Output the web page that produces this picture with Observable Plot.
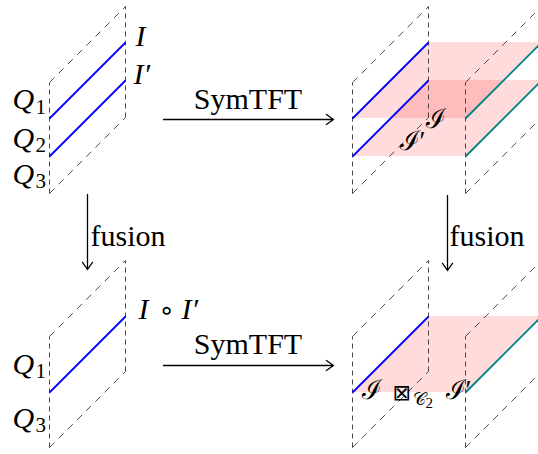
<!DOCTYPE html>
<html><head><meta charset="utf-8">
<script src="https://cdn.jsdelivr.net/npm/d3@7"></script>
<script src="https://cdn.jsdelivr.net/npm/@observablehq/plot@0.6"></script>
<style>html,body{margin:0;padding:0;background:#fff}svg{display:block}</style>
</head><body><div id="chart"></div>
<script>
// ---- diagram data ----
// bottom-left corner of each dashed slab (diagram coordinates, y downward)
const slabs = [
  {id: "TL", x: 49,  y: 193},
  {id: "TR1", x: 352, y: 193},
  {id: "TR2", x: 465, y: 193},
  {id: "BL", x: 49,  y: 447},
  {id: "BR1", x: 352, y: 447},
  {id: "BR2", x: 465, y: 447}
];
const slabHeight = 111, slabDepth = 76;

// defect lines: slab index, height above slab bottom, colour
const defectLines = [
  {slab: 0, h: 75, c: "#0000ff"}, {slab: 0, h: 37, c: "#0000ff"},
  {slab: 1, h: 75, c: "#0000ff"}, {slab: 1, h: 37, c: "#0000ff"},
  {slab: 2, h: 75, c: "#008080"}, {slab: 2, h: 37, c: "#008080"},
  {slab: 3, h: 55, c: "#0000ff"},
  {slab: 4, h: 55, c: "#0000ff"},
  {slab: 5, h: 55, c: "#008080"}
];
// pink sheets between two slabs at a given height
const sheets = [
  {from: 1, to: 2, h: 75}, {from: 1, to: 2, h: 37},
  {from: 4, to: 5, h: 55}
];
// arrows
const arrows = [
  {x1: 163, y1: 119, x2: 333, y2: 119},
  {x1: 163, y1: 365, x2: 333, y2: 365},
  {x1: 87,  y1: 194, x2: 87,  y2: 269},
  {x1: 447, y1: 195, x2: 447, y2: 270}
];
// labels: x, baseline, text, size, style, anchor, font
const serif = "Liberation Serif, DejaVu Serif, serif";
const symb = "DejaVu Sans, sans-serif";
const labels = [
  {x: 247.5, b: 108, t: "SymTFT", s: 30, st: "normal", a: "middle", f: serif},
  {x: 247.5, b: 353, t: "SymTFT", s: 30, st: "normal", a: "middle", f: serif},
  {x: 90,  b: 245, t: "fusion", s: 30, st: "normal", a: "start", f: serif},
  {x: 449, b: 245, t: "fusion", s: 30, st: "normal", a: "start", f: serif},
  {x: 135, b: 45,  t: "I", s: 30, st: "italic", a: "start", f: serif},
  {x: 133, b: 83,  t: "I′", s: 30, st: "italic", a: "start", f: serif},
  {x: 138, b: 318, t: "I", s: 30, st: "italic", a: "start", f: serif},
  {x: 158, b: 318, t: "∘", s: 26, st: "normal", a: "start", f: symb},
  {x: 181, b: 318, t: "I′", s: 30, st: "italic", a: "start", f: serif},
  {x: 12, b: 108, t: "Q", s: 30, st: "italic", a: "start", f: serif},
  {x: 35, b: 113, t: "1", s: 21, st: "normal", a: "start", f: serif},
  {x: 12, b: 147, t: "Q", s: 30, st: "italic", a: "start", f: serif},
  {x: 35, b: 151, t: "2", s: 21, st: "normal", a: "start", f: serif},
  {x: 12, b: 183, t: "Q", s: 30, st: "italic", a: "start", f: serif},
  {x: 35, b: 187, t: "3", s: 21, st: "normal", a: "start", f: serif},
  {x: 12, b: 373, t: "Q", s: 30, st: "italic", a: "start", f: serif},
  {x: 35, b: 377, t: "1", s: 21, st: "normal", a: "start", f: serif},
  {x: 12, b: 427, t: "Q", s: 30, st: "italic", a: "start", f: serif},
  {x: 35, b: 431, t: "3", s: 21, st: "normal", a: "start", f: serif},
  {x: 425, b: 127, t: "ℐ", s: 27, st: "normal", a: "start", f: serif},
  {x: 399, b: 149, t: "ℐ′", s: 27, st: "normal", a: "start", f: serif},
  {x: 361, b: 398, t: "ℐ", s: 27, st: "normal", a: "start", f: serif},
  {x: 392, b: 399, t: "⊠", s: 22, st: "normal", a: "start", f: symb},
  {x: 412, b: 404, t: "𝒞", s: 18, st: "normal", a: "start", f: serif},
  {x: 425, b: 407, t: "2", s: 15, st: "normal", a: "start", f: serif},
  {x: 445, b: 398, t: "ℐ′", s: 27, st: "normal", a: "start", f: serif}
];

// ---- derived geometry ----
const verticalEdges = slabs.flatMap(s => [
  {x1: s.x, y1: s.y, x2: s.x, y2: s.y - slabHeight},
  {x1: s.x + slabDepth, y1: s.y - slabDepth, x2: s.x + slabDepth, y2: s.y - slabDepth - slabHeight}
]);
const diagonalEdges = slabs.flatMap(s => [
  {x1: s.x, y1: s.y, x2: s.x + slabDepth, y2: s.y - slabDepth},
  {x1: s.x, y1: s.y - slabHeight, x2: s.x + slabDepth, y2: s.y - slabHeight - slabDepth}
]);
const lineSegs = defectLines.map(d => {
  const s = slabs[d.slab];
  return {x1: s.x, y1: s.y - d.h, x2: s.x + slabDepth, y2: s.y - d.h - slabDepth, c: d.c};
});
const sheetPts = sheets.flatMap((sh, i) => {
  const a = slabs[sh.from], b = slabs[sh.to];
  return [
    {z: i, y: a.y - sh.h, x1: a.x, x2: b.x},
    {z: i, y: a.y - sh.h - slabDepth, x1: a.x + slabDepth, x2: b.x + slabDepth}
  ];
});

const textMarks = labels.map(l => Plot.text([l], {
  x: "x", y: d => d.b - 0.32 * d.s, text: "t",
  fontSize: l.s, fontStyle: l.st, textAnchor: l.a, lineAnchor: "middle",
  fontFamily: l.f, fill: "black"
}));

const chart = Plot.plot({
  width: 538, height: 454, margin: 0,
  style: {background: "#fff", overflow: "hidden"},
  x: {domain: [0, 538], range: [0, 538], axis: null},
  y: {domain: [0, 454], range: [0, 454], axis: null},
  marks: [
    Plot.areaX(sheetPts, {y: "y", x1: "x1", x2: "x2", z: "z", fill: "#ff0000", fillOpacity: 0.14, curve: "linear"}),
    Plot.link(verticalEdges, {x1: "x1", y1: "y1", x2: "x2", y2: "y2", stroke: "#333", strokeWidth: 0.9, strokeDasharray: "5,4"}),
    Plot.link(diagonalEdges, {x1: "x1", y1: "y1", x2: "x2", y2: "y2", stroke: "#222", strokeWidth: 0.8, strokeDasharray: "7,6"}),
    Plot.link(lineSegs, {x1: "x1", y1: "y1", x2: "x2", y2: "y2", stroke: "c", strokeWidth: 1.8}),
    Plot.arrow(arrows, {x1: "x1", y1: "y1", x2: "x2", y2: "y2", stroke: "black", strokeWidth: 1.3, headLength: 10, headAngle: 70, bend: 0}),
    ...textMarks
  ]
});
document.getElementById("chart").append(chart);
</script>
</body></html>
